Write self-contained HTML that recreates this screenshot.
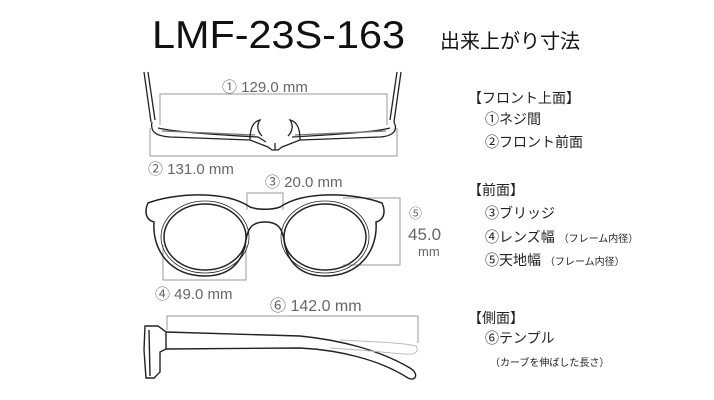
<!DOCTYPE html>
<html><head><meta charset="utf-8"><style>
html,body{margin:0;padding:0;background:#fff;}
svg{display:block;}
.t{font-family:"Liberation Sans","Noto Sans CJK JP",sans-serif;}
</style></head><body>
<svg width="714" height="400" viewBox="0 0 714 400" xmlns="http://www.w3.org/2000/svg">
<rect width="714" height="400" fill="#fff"/>
<text x="152" y="48" class="t" font-size="39" fill="#111" textLength="253" lengthAdjust="spacingAndGlyphs">LMF-23S-163</text>
<text x="440" y="48" class="t" font-size="20" fill="#111">出来上がり寸法</text>

<!-- Top view -->
<g fill="none" stroke="#222" stroke-width="1.3">
<path d="M144,72 L151,122 M148,72 L155,120"/>
<path d="M401,72 L394,122 M397,72 L390,120"/>
<path d="M152,122 C150,132 156,136 170,137 L250,140 L268,147 L272,150 L278,150 L282,147 L300,140 L380,137 C394,136 398,130 394,122"/>
<path d="M158,128 C175,132 220,135 258,137 L266,142 M292,137 C330,135 375,132 390,128"/>
<path d="M162,131 L255,135 M295,135 L386,131" stroke="#777"/>
<path d="M250,140 C250,130 252,122 260,120 C256,126 258,132 262,136"/>
<path d="M300,140 C300,130 298,122 290,120 C294,126 292,132 288,136"/>
<path d="M275,143 L275,150"/>
</g>
<g fill="none" stroke="#999" stroke-width="1">
<path d="M160,125 L160,94 L387,94 L387,125"/>
<path d="M150,128 L150,156 L397,156 L397,128"/>
</g>
<text x="222" y="92" class="t" font-size="15" fill="#666">① 129.0  mm</text>
<text x="148" y="174" class="t" font-size="15" fill="#666">② 131.0  mm</text>

<!-- Front view -->
<g fill="none" stroke="#999" stroke-width="1">
<path d="M247,210 L247,193 L283,193 L283,210"/>
<path d="M343,198 L400,198 L400,265 L343,265"/>
<path d="M163,245 L163,280 L246,280 L246,245"/>
</g>
<g fill="none" stroke="#222" stroke-width="1.5">
<path d="M148,203 C175,193 225,190 250,207 C258,210 272,210 280,207 C305,190 355,193 382,203 C386,212 384,220 376,222 C378,250 360,276 325,276 C295,276 286,256 284,240 C282,228 278,222 265,222 C252,222 248,228 246,240 C244,256 235,276 205,276 C170,276 152,250 154,222 C146,220 144,212 148,203 Z"/>
<ellipse cx="205" cy="237" rx="41" ry="33"/>
<ellipse cx="325" cy="237" rx="41" ry="33"/>
</g>
<g fill="none" stroke="#222" stroke-width="0.8">
<ellipse cx="205" cy="237" rx="44" ry="36"/>
<ellipse cx="325" cy="237" rx="44" ry="36"/>
</g>
<text x="265" y="187" class="t" font-size="15" fill="#666">③ 20.0 mm</text>
<text x="409" y="218" class="t" font-size="13" fill="#666">⑤</text>
<text x="408" y="240" class="t" font-size="17" fill="#666">45.0</text>
<text x="418" y="256" class="t" font-size="13" fill="#666">mm</text>
<text x="155" y="299" class="t" font-size="15" fill="#666">④ 49.0  mm</text>

<!-- Side view -->
<path d="M167,330 L167,316 L418,316 L418,343" fill="none" stroke="#999" stroke-width="1"/>
<g fill="none" stroke="#222" stroke-width="1.4">
<path d="M145,326 L158,326 L166,332 L166,349 L160,352 L160,372 L154,378 L146,378 L144,350 Z"/>
<path d="M149,330 L150,376"/>
<path d="M166,332 L300,336 C340,340 380,350 410,368 C420,374 415,382 408,378 C380,360 340,350 300,348 L166,349"/>
</g>
<path d="M340,340 C380,342 405,343 416,346 C420,352 414,355 405,354 C380,352 350,349 330,348" fill="none" stroke="#bbb" stroke-width="1"/>
<text x="270" y="311" class="t" font-size="16" fill="#666">⑥ 142.0  mm</text>

<!-- Legend -->
<g class="t" font-size="14" fill="#222">
<text x="468" y="103">【フロント上面】</text>
<text x="485" y="124">①ネジ間</text>
<text x="485" y="147">②フロント前面</text>
<text x="468" y="195">【前面】</text>
<text x="485" y="218">③ブリッジ</text>
<text x="485" y="242">④レンズ幅 <tspan font-size="10">（フレーム内径）</tspan></text>
<text x="485" y="265">⑤天地幅 <tspan font-size="10">（フレーム内径）</tspan></text>
<text x="468" y="323">【側面】</text>
<text x="485" y="343">⑥テンプル</text>
<text x="490" y="366" font-size="10">（カーブを伸ばした長さ）</text>
</g>
</svg>
</body></html>
